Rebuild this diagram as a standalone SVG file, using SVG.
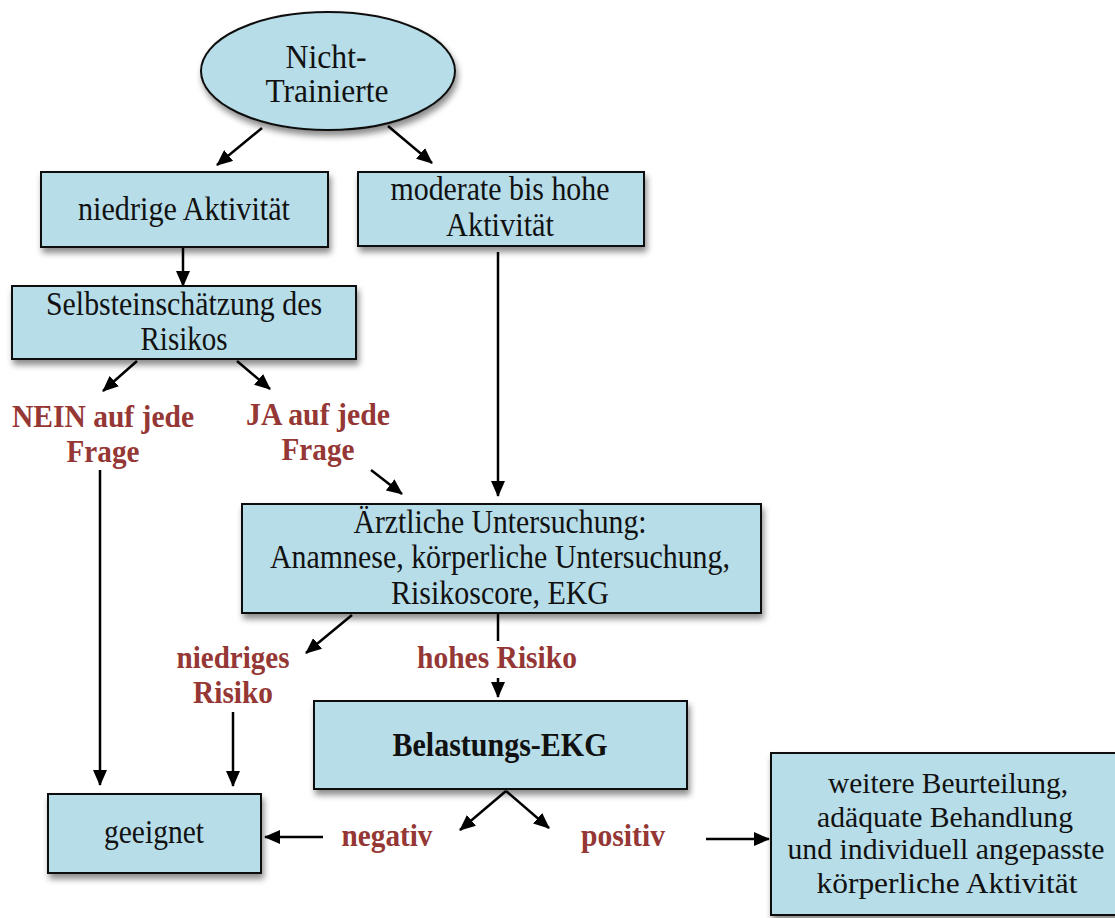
<svg xmlns="http://www.w3.org/2000/svg" width="1115" height="918" viewBox="0 0 1115 918">
<defs>
<filter id="sh" x="-10%" y="-10%" width="125%" height="140%">
<feDropShadow dx="2" dy="5" stdDeviation="3" flood-color="#000" flood-opacity="0.45"/>
</filter>
<marker id="ah" markerUnits="userSpaceOnUse" markerWidth="16" markerHeight="14" refX="15" refY="7" orient="auto">
<path d="M0,0 L16,7 L0,14 z" fill="#000"/>
</marker>
</defs>
<style>
.box{fill:#b7dde8;stroke:#111;stroke-width:2;filter:url(#sh)}
.t{font-family:"Liberation Serif","Times New Roman",serif;font-size:33px;fill:#111;text-anchor:middle}
.s{font-size:29px}
.b{font-weight:bold}
.r{font-family:"Liberation Serif","Times New Roman",serif;font-size:32px;font-weight:bold;fill:#953735;text-anchor:middle}
.c{stroke:#000;stroke-width:2.5;fill:none}
.a{marker-end:url(#ah)}
</style>
<rect width="1115" height="918" fill="#fff"/>
<g id="connectors">
<line class="c a" x1="262" y1="128" x2="217" y2="165"/>
<line class="c a" x1="388" y1="126" x2="432" y2="163"/>
<line class="c a" x1="183" y1="247" x2="183" y2="286"/>
<line class="c a" x1="137" y1="361" x2="103" y2="391"/>
<line class="c a" x1="237" y1="361" x2="270" y2="389"/>
<line class="c a" x1="100" y1="470" x2="100" y2="785"/>
<line class="c a" x1="371" y1="470" x2="402" y2="494"/>
<line class="c a" x1="498" y1="252" x2="498" y2="496"/>
<line class="c a" x1="352" y1="615" x2="306" y2="653"/>
<line class="c" x1="498" y1="613" x2="498" y2="641"/>
<line class="c a" x1="498" y1="678" x2="498" y2="697"/>
<line class="c a" x1="233" y1="712" x2="233" y2="786"/>
<line class="c a" x1="506" y1="791" x2="460" y2="830"/>
<line class="c a" x1="506" y1="791" x2="549" y2="828"/>
<line class="c a" x1="323" y1="837" x2="265" y2="837"/>
<line class="c a" x1="706" y1="839" x2="769" y2="839"/>
</g>
<g id="n-start">
<ellipse class="box" cx="328" cy="71" rx="127" ry="59"/>
<text class="t" x="326" y="68" textLength="81" lengthAdjust="spacingAndGlyphs">Nicht-</text>
<text class="t" x="327" y="102" textLength="123" lengthAdjust="spacingAndGlyphs">Trainierte</text>
</g>
<g id="n-low">
<rect class="box" x="41" y="172" width="287" height="75"/>
<text class="t" x="184" y="220" textLength="212" lengthAdjust="spacingAndGlyphs">niedrige Aktivität</text>
</g>
<g id="n-mod">
<rect class="box" x="358" y="172" width="286" height="74"/>
<text class="t" x="500" y="200" textLength="219" lengthAdjust="spacingAndGlyphs">moderate bis hohe</text>
<text class="t" x="500" y="236" textLength="108" lengthAdjust="spacingAndGlyphs">Aktivität</text>
</g>
<g id="n-self">
<rect class="box" x="12" y="286" width="344" height="73"/>
<text class="t" x="184" y="315" textLength="276" lengthAdjust="spacingAndGlyphs">Selbsteinschätzung des</text>
<text class="t" x="184" y="350" textLength="87" lengthAdjust="spacingAndGlyphs">Risikos</text>
</g>
<g id="l-nein">
<text class="r" x="103" y="427" textLength="182" lengthAdjust="spacingAndGlyphs">NEIN auf jede</text>
<text class="r" x="103" y="462" textLength="73" lengthAdjust="spacingAndGlyphs">Frage</text>
</g>
<g id="l-ja">
<text class="r" x="318" y="425" textLength="144" lengthAdjust="spacingAndGlyphs">JA auf jede</text>
<text class="r" x="318" y="460" textLength="73" lengthAdjust="spacingAndGlyphs">Frage</text>
</g>
<g id="n-arzt">
<rect class="box" x="242" y="504" width="519" height="109"/>
<text class="t" x="500" y="533" textLength="293" lengthAdjust="spacingAndGlyphs">Ärztliche Untersuchung:</text>
<text class="t" x="500" y="568" textLength="460" lengthAdjust="spacingAndGlyphs">Anamnese, körperliche Untersuchung,</text>
<text class="t" x="500" y="604" textLength="218" lengthAdjust="spacingAndGlyphs">Risikoscore, EKG</text>
</g>
<g id="l-niedrig">
<text class="r" x="233" y="668" textLength="113" lengthAdjust="spacingAndGlyphs">niedriges</text>
<text class="r" x="233" y="703" textLength="80" lengthAdjust="spacingAndGlyphs">Risiko</text>
</g>
<g id="l-hoch">
<text class="r" x="497" y="668" textLength="160" lengthAdjust="spacingAndGlyphs">hohes Risiko</text>
</g>
<g id="n-belast">
<rect class="box" x="314" y="701" width="373" height="88"/>
<text class="t b" x="500" y="756" textLength="215" lengthAdjust="spacingAndGlyphs">Belastungs-EKG</text>
</g>
<g id="n-geeignet">
<rect class="box" x="48" y="794" width="213" height="79"/>
<text class="t" x="154" y="843" textLength="100" lengthAdjust="spacingAndGlyphs">geeignet</text>
</g>
<g id="l-neg">
<text class="r" x="387" y="846" textLength="91" lengthAdjust="spacingAndGlyphs">negativ</text>
</g>
<g id="l-pos">
<text class="r" x="623" y="846" textLength="84" lengthAdjust="spacingAndGlyphs">positiv</text>
</g>
<g id="n-weitere">
<rect class="box" x="771" y="753" width="360" height="162"/>
<text class="t s" x="948" y="793" textLength="240" lengthAdjust="spacingAndGlyphs">weitere Beurteilung,</text>
<text class="t s" x="945" y="827" textLength="256" lengthAdjust="spacingAndGlyphs">adäquate Behandlung</text>
<text class="t s" x="946" y="859" textLength="317" lengthAdjust="spacingAndGlyphs">und individuell angepasste</text>
<text class="t s" x="947" y="893" textLength="261" lengthAdjust="spacingAndGlyphs">körperliche Aktivität</text>
</g>
</svg>
